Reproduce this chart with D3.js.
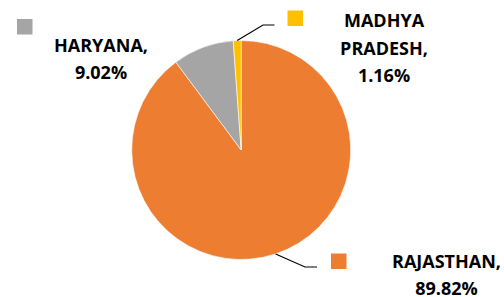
<!DOCTYPE html>
<html>
<head>
<meta charset="utf-8">
<script src="https://cdn.jsdelivr.net/npm/d3@7"></script>
<style>
  html, body { margin: 0; padding: 0; background: #fff; }
  svg { display: block; }
  text { font-family: "Open Sans", Lato, sans-serif; font-weight: bold; fill: #000; }
</style>
</head>
<body>
<div id="chart"></div>
<script>
// DATA
const STATES = ["RAJASTHAN", "HARYANA", "MADHYA PRADESH"];
const SHARES = [89.82, 9.02, 1.16];
const COLORS = ["#ED7D31", "#A5A5A5", "#FFC000"];

const WIDTH = 504;
const HEIGHT = 297;
const CENTER = { x: 241.2, y: 150 };
const RADIUS = 109.5;
const FONT_SIZE = 18;
const LINE_H = 27.5;

// label layout: text block centre x, first baseline, legend key box, optional leader elbow/end
const LABELS = {
    "RAJASTHAN":      { lines: ["RAJASTHAN,"], cx: 446.5, y: 267.8, key: [331, 253.5], elbow: [305, 267], end: [317, 267] },
    "HARYANA":        { lines: ["HARYANA,"], cx: 101, y: 51.8, key: [17, 19] },
    "MADHYA PRADESH": { lines: ["MADHYA", "PRADESH,"], cx: 384, y: 27.3, key: [287.5, 10.5], elbow: [263, 25], end: [274.5, 25] }
};

const fmt = d3.format(".2%");

const svg = d3.select("#chart")
    .append("svg")
        .attr("width", WIDTH)
        .attr("height", HEIGHT);

const data = STATES.map((name, i) => ({ name, share: SHARES[i], color: COLORS[i] }));

const pie = d3.pie()
    .sort(null)
    .value(d => d.share);

const arc = d3.arc()
    .innerRadius(0)
    .outerRadius(RADIUS);

const arcs = pie(data);

// SLICES
const g = svg.append("g")
    .attr("transform", `translate(${CENTER.x}, ${CENTER.y})`);

g.selectAll("path")
    .data(arcs)
    .enter()
    .append("path")
        .attr("d", arc)
        .attr("fill", d => d.data.color)
        .attr("stroke", "#fff")
        .attr("stroke-width", 0.6);

// LEADER LINES
arcs.forEach(a => {
    const lab = LABELS[a.data.name];
    if (!lab.elbow) return;
    const mid = (a.startAngle + a.endAngle) / 2;
    const sx = CENTER.x + RADIUS * Math.sin(mid);
    const sy = CENTER.y - RADIUS * Math.cos(mid);
    svg.append("polyline")
        .attr("points", [[sx, sy], lab.elbow, lab.end].map(p => p.join(",")).join(" "))
        .attr("fill", "none")
        .attr("stroke", "#000")
        .attr("stroke-width", 1.2);
});

// LABELS
arcs.forEach(a => {
    const lab = LABELS[a.data.name];
    svg.append("rect")
        .attr("x", lab.key[0])
        .attr("y", lab.key[1])
        .attr("width", 15.5)
        .attr("height", 15.5)
        .attr("fill", a.data.color);

    const lines = lab.lines.concat([fmt(a.data.share / 100)]);
    const t = svg.append("text")
        .attr("text-anchor", "middle")
        .attr("font-size", FONT_SIZE);
    lines.forEach((s, i) => {
        t.append("tspan")
            .attr("x", lab.cx)
            .attr("y", lab.y + i * LINE_H)
            .text(s);
    });
});
</script>
</body>
</html>
